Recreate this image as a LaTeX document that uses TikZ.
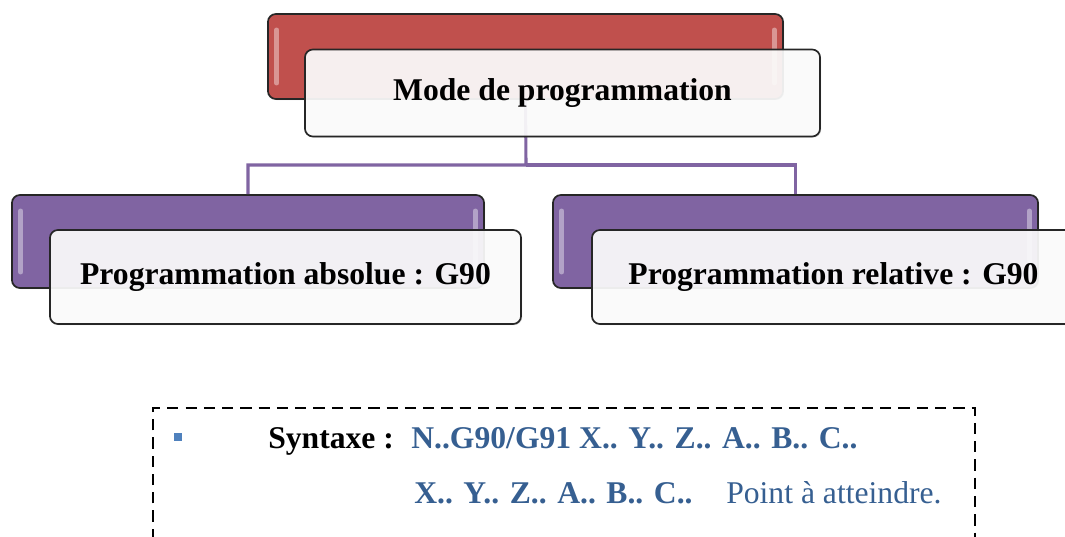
\documentclass[tikz,border=0pt]{standalone}
\usepackage{fontspec}
\setmainfont{Liberation Serif}
\usetikzlibrary{shadows}

\definecolor{redbox}{HTML}{C0504D}
\definecolor{violetbox}{HTML}{8064A2}
\definecolor{syntblue}{HTML}{365F91}
\definecolor{bulletblue}{HTML}{4F81BD}

\tikzset{
  back/.style={draw=black!85, line width=1.2pt, rounded corners=0.2cm,
    drop shadow={shadow xshift=0.8pt, shadow yshift=-0.8pt, opacity=0.35},
    path picture={
      \draw[white, opacity=0.4, line width=3.5pt, line cap=round]
        ([xshift=0.22cm,yshift=-0.4cm]path picture bounding box.north west) --
        ([xshift=0.22cm,yshift=0.4cm]path picture bounding box.south west);
      \draw[white, opacity=0.4, line width=3.5pt, line cap=round]
        ([xshift=-0.22cm,yshift=-0.4cm]path picture bounding box.north east) --
        ([xshift=-0.22cm,yshift=0.4cm]path picture bounding box.south east);}},
  front/.style={draw=black!85, line width=1.2pt, rounded corners=0.2cm,
    fill=white, fill opacity=0.9, text opacity=1,
    drop shadow={shadow xshift=0.8pt, shadow yshift=-0.8pt, opacity=0.3},
    font=\fontsize{22.5}{27}\selectfont\bfseries},
  link/.style={violetbox, line width=2.2pt},
  frame/.style={line width=1.8pt, dash pattern=on 8pt off 5pt},
  txt/.style={anchor=base west, inner sep=0pt, font=\fontsize{22.5}{27}\selectfont}
}

\begin{document}
\begin{tikzpicture}[x=0.025cm, y=-0.025cm]
\useasboundingbox (0,0) rectangle (1065,537);

% coloured back boxes
\node[back, fill=redbox, minimum width=12.875cm, minimum height=2.125cm] (modeB) at (525.5,56.5) {};
\node[back, fill=violetbox, minimum width=11.8cm, minimum height=2.325cm] (absB) at (248,241.5) {};
\node[back, fill=violetbox, minimum width=12.125cm, minimum height=2.325cm] (relB) at (795.5,241.5) {};

% tree lines
\coordinate (hub) at (526,165);
\draw[link] (modeB.south) -- (hub) -| (absB.north);
\draw[link] (hub) -| (relB.north);

% white front boxes with the titles
\node[front, minimum width=12.875cm, minimum height=2.175cm] (mode) at (562.5,93) {Mode de programmation};
\node[front, minimum width=11.775cm, minimum height=2.35cm] (abs) at (285.5,277) {Programmation absolue : G90};
\node[front, minimum width=12.075cm, minimum height=2.35cm] (rel) at (833.5,277) {Programmation relative : G90};

% syntax frame, open at the bottom
\draw[frame] (153,540) -- (153,408) -- (975,408) -- (975,540);

\node[fill=bulletblue, inner sep=0pt, minimum size=0.2cm] (bullet) at (177.5,436.5) {};
\node[txt, font=\fontsize{22.5}{27}\selectfont\bfseries] (syn) at (268,448) {Syntaxe :};
\node[txt, text=syntblue, font=\fontsize{22.5}{27}\selectfont\bfseries] (cmd) at (411,448) {N..G90/G91 X.. Y.. Z.. A.. B.. C..};
\node[txt, text=syntblue, font=\fontsize{22.5}{27}\selectfont\bfseries] (axes) at (414,503) {X.. Y.. Z.. A.. B.. C..};
\node[txt, text=syntblue] (pt) at (726,503) {Point à atteindre.};
\end{tikzpicture}
\end{document}
